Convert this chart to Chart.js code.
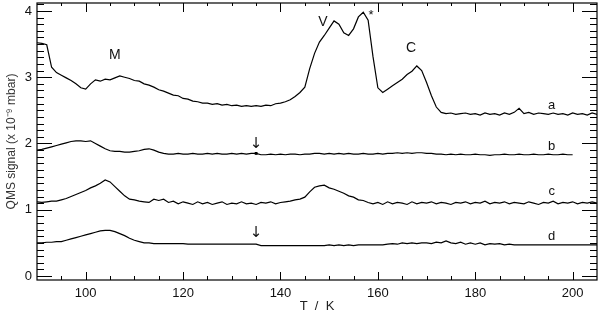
<!DOCTYPE html>
<html>
<head>
<meta charset="utf-8">
<script src="https://cdn.jsdelivr.net/npm/chart.js@4.4.0/dist/chart.umd.min.js"></script>
<style>
html,body{margin:0;padding:0;background:#fff;}
#wrap{width:600px;height:318px;position:relative;}
</style>
</head>
<body>
<div id="wrap"><canvas id="c" width="600" height="318"></canvas></div>
<script>
// Temperatures (K)
const temps = [90,91,92,93,94,95,96,97,98,99,100,101,102,103,104,105,106,107,108,109,110,111,112,113,114,115,116,117,118,119,120,121,122,123,124,125,126,127,128,129,130,131,132,133,134,135,136,137,138,139,140,141,142,143,144,145,146,147,148,149,150,151,152,153,154,155,156,157,158,159,160,161,162,163,164,165,166,167,168,169,170,171,172,173,174,175,176,177,178,179,180,181,182,183,184,185,186,187,188,189,190,191,192,193,194,195,196,197,198,199,200,201,202,203,204,205];

// QMS signal (x 1e-9 mbar)
const sigA = [3.52,3.51,3.49,3.15,3.07,3.03,2.99,2.95,2.90,2.84,2.82,2.90,2.96,2.94,2.97,2.96,2.99,3.02,3.00,2.98,2.95,2.94,2.90,2.88,2.85,2.81,2.79,2.76,2.73,2.72,2.68,2.67,2.64,2.63,2.61,2.61,2.59,2.60,2.58,2.59,2.57,2.58,2.56,2.57,2.56,2.57,2.56,2.58,2.57,2.60,2.61,2.63,2.66,2.71,2.77,2.85,3.13,3.36,3.53,3.63,3.74,3.85,3.80,3.67,3.63,3.73,3.91,3.98,3.86,3.31,2.84,2.77,2.82,2.87,2.92,2.97,3.04,3.09,3.17,3.10,2.92,2.72,2.55,2.47,2.45,2.46,2.44,2.45,2.46,2.44,2.45,2.43,2.46,2.44,2.45,2.43,2.46,2.44,2.47,2.53,2.45,2.47,2.44,2.46,2.45,2.44,2.46,2.44,2.45,2.43,2.46,2.44,2.45,2.43,2.46,2.44];
const sigB = [1.90,1.91,1.93,1.95,1.97,1.99,2.01,2.03,2.04,2.04,2.03,2.04,2.00,1.96,1.92,1.89,1.88,1.88,1.87,1.87,1.88,1.89,1.91,1.92,1.90,1.87,1.85,1.84,1.84,1.85,1.84,1.84,1.85,1.84,1.84,1.85,1.84,1.85,1.84,1.84,1.85,1.84,1.85,1.84,1.85,1.85,1.83,1.83,1.84,1.83,1.84,1.83,1.84,1.84,1.83,1.84,1.84,1.85,1.85,1.84,1.85,1.84,1.85,1.84,1.85,1.84,1.84,1.85,1.84,1.84,1.85,1.84,1.85,1.85,1.86,1.85,1.86,1.85,1.86,1.86,1.85,1.85,1.84,1.84,1.83,1.84,1.83,1.84,1.83,1.83,1.84,1.83,1.83,1.82,1.83,1.83,1.84,1.83,1.83,1.84,1.83,1.83,1.84,1.83,1.83,1.84,1.83,1.83,1.84,1.83,1.83,null,null,null,null,null];
const sigC = [1.12,1.11,1.12,1.13,1.13,1.15,1.17,1.20,1.23,1.26,1.29,1.33,1.36,1.40,1.45,1.42,1.35,1.28,1.21,1.16,1.15,1.13,1.12,1.11,1.16,1.14,1.16,1.11,1.13,1.09,1.12,1.10,1.08,1.12,1.09,1.11,1.08,1.10,1.12,1.08,1.10,1.09,1.12,1.09,1.10,1.08,1.11,1.10,1.12,1.09,1.11,1.12,1.13,1.15,1.16,1.19,1.27,1.34,1.36,1.37,1.33,1.31,1.28,1.25,1.21,1.19,1.15,1.14,1.11,1.09,1.11,1.08,1.12,1.09,1.11,1.10,1.08,1.12,1.09,1.11,1.10,1.12,1.09,1.11,1.10,1.08,1.11,1.10,1.12,1.09,1.11,1.10,1.13,1.09,1.11,1.10,1.12,1.09,1.11,1.10,1.09,1.12,1.10,1.08,1.11,1.10,1.13,1.09,1.11,1.10,1.12,1.09,1.11,1.10,1.12,1.10];
const sigD = [0.50,0.50,0.51,0.51,0.52,0.52,0.54,0.56,0.58,0.60,0.62,0.64,0.66,0.68,0.69,0.69,0.67,0.64,0.61,0.57,0.54,0.52,0.50,0.50,0.49,0.49,0.49,0.49,0.49,0.49,0.49,0.48,0.48,0.48,0.48,0.48,0.48,0.48,0.48,0.48,0.48,0.48,0.48,0.48,0.48,0.48,0.46,0.46,0.46,0.46,0.46,0.46,0.46,0.46,0.46,0.46,0.46,0.46,0.46,0.46,0.47,0.46,0.47,0.46,0.47,0.46,0.47,0.47,0.47,0.47,0.47,0.47,0.48,0.49,0.48,0.50,0.49,0.50,0.49,0.50,0.50,0.49,0.51,0.50,0.53,0.50,0.49,0.51,0.48,0.50,0.48,0.50,0.47,0.49,0.48,0.49,0.47,0.48,0.47,0.47,0.47,0.47,0.47,0.47,0.47,0.47,0.47,0.47,0.47,0.47,0.47,0.47,0.47,0.47,0.47,0.47];

// Axis tick labels
const xTickValues = [100,120,140,160,180,200];
const yTickValues = [0,1,2,3,4];

// Annotations (text, T, signal)
const noteText = ['M','V','*','C','a','b','c','d','\u2193','\u2193'];
const noteT    = [106,148.7,158.6,166.8,195.7,195.7,195.7,195.7,135,135];
const noteV    = [3.33,3.83,3.93,3.44,2.58,1.96,1.28,0.60,1.99,0.65];
const markT = 135; // marker dot on curve b

const FONT = '"Liberation Sans", Arial, Helvetica, sans-serif';

function pts(arr){ return temps.map((t,i)=>({x:t,y:arr[i]})); }

const frameTicks = {
  id:'frameTicks',
  afterDraw(chart){
    const {ctx, chartArea:ca, scales:{x,y}} = chart;
    ctx.save();
    ctx.strokeStyle = '#000';
    ctx.lineWidth = 1.2;
    ctx.strokeRect(ca.left, ca.top, ca.right-ca.left, ca.bottom-ca.top);
    ctx.lineWidth = 1;
    ctx.beginPath();
    for (let t = 95; t < x.max; t += 5) {
      const px = Math.round(x.getPixelForValue(t)) + 0.5;
      const major = (t % 20 === 0);
      const lb = major ? 8 : 4;
      const lt = major ? 9 : 3;
      ctx.moveTo(px, ca.bottom); ctx.lineTo(px, ca.bottom - lb);
      ctx.moveTo(px, ca.top); ctx.lineTo(px, ca.top + lt);
    }
    for (let k = 0; k <= 41; k++) {
      const v = k / 10;
      if (v > y.max) break;
      const py = Math.round(y.getPixelForValue(v)) + 0.5;
      const major = (k % 10 === 0);
      const l = major ? 15 : 7;
      ctx.moveTo(ca.left, py); ctx.lineTo(ca.left + l, py);
      ctx.moveTo(ca.right, py); ctx.lineTo(ca.right - l, py);
    }
    ctx.stroke();
    // annotations
    ctx.fillStyle = '#111';
    ctx.textAlign = 'center';
    ctx.textBaseline = 'middle';
    noteText.forEach((s,i)=>{
      const isUpper = /[A-Z]/.test(s);
      ctx.font = (isUpper ? '14px ' : '13px ') + FONT;
      if (s === '\u2193') ctx.font = '15px "DejaVu Sans", ' + FONT;
      ctx.fillText(s, x.getPixelForValue(noteT[i]), y.getPixelForValue(noteV[i]));
    });
    ctx.restore();
  }
};

const mk = (arr, idxMark) => ({
  data: pts(arr),
  borderColor:'#000',
  backgroundColor:'#000',
  borderWidth:1.2,
  tension:0,
  spanGaps:false,
  pointRadius: idxMark === undefined ? 0 : (c => c.dataIndex === idxMark ? 2 : 0),
  pointStyle:'rect',
  pointBorderWidth:0
});

new Chart(document.getElementById('c'), {
  type:'line',
  data:{ datasets:[ mk(sigA), mk(sigB, temps.indexOf(markT)), mk(sigC), mk(sigD) ] },
  options:{
    responsive:false,
    animation:false,
    events:[],
    layout:{ padding:{ left:0, top:3, right:3, bottom:0 } },
    plugins:{ legend:{display:false}, tooltip:{enabled:false} },
    scales:{
      x:{
        type:'linear', min:90, max:205,
        grid:{ display:false, drawTicks:false },
        border:{ display:false },
        afterBuildTicks: s => { s.ticks = xTickValues.map(v=>({value:v})); },
        afterFit: s => { s.height = 38; s.paddingLeft = 0; s.paddingRight = 0; },
        ticks:{ color:'#111', padding:6, maxRotation:0, autoSkip:false, font:{ family:FONT, size:13 } },
        title:{ display:true, text:'T  /  K', color:'#222', padding:{top:0,bottom:4}, font:{ family:FONT, size:13 } }
      },
      y:{
        type:'linear', min:-0.06, max:4.12,
        grid:{ display:false, drawTicks:false },
        border:{ display:false },
        afterBuildTicks: s => { s.ticks = yTickValues.map(v=>({value:v})); },
        afterFit: s => { s.width = 37; s.paddingTop = 0; s.paddingBottom = 0; },
        ticks:{ color:'#111', padding:5, autoSkip:false, font:{ family:FONT, size:13 } },
        title:{ display:true, text:'QMS signal (x 10\u207B\u2079 mbar)', color:'#333', padding:{top:4,bottom:0}, font:{ family:FONT, size:12 } }
      }
    }
  },
  plugins:[frameTicks]
});
</script>
</body>
</html>
